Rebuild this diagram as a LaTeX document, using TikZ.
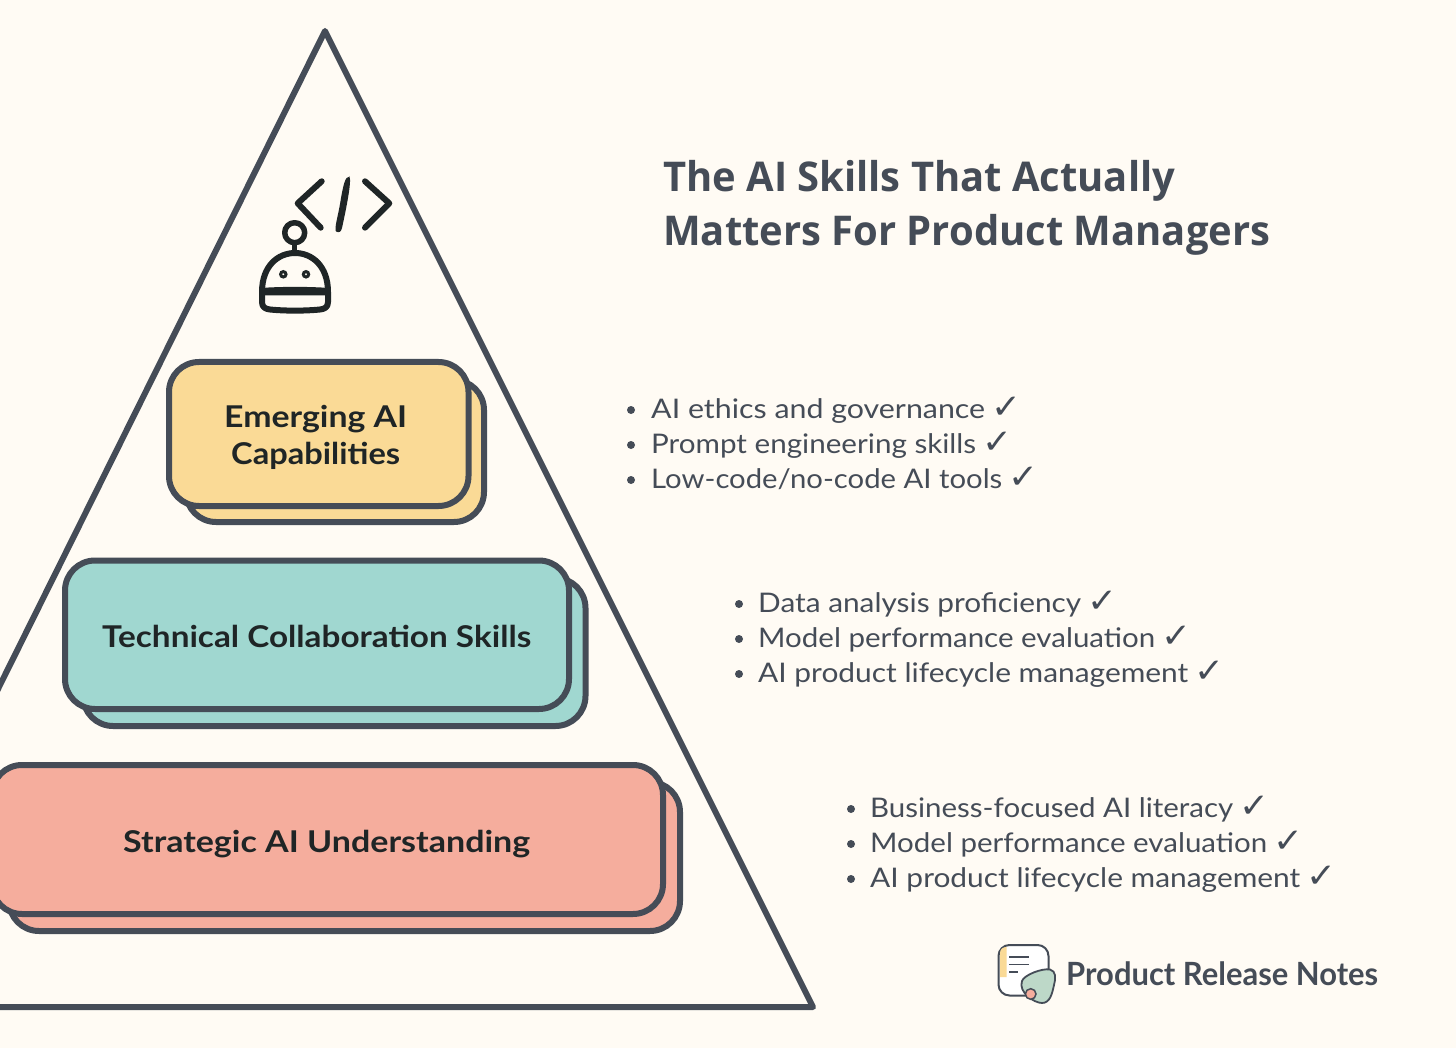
\documentclass[tikz,border=0pt]{standalone}
\usepackage{graphicx}
\usepackage{fontspec}
\setmainfont{Lato}
\newfontfamily\titlefont{Open Sans}
\newfontfamily\checkfont{DejaVu Sans}
\definecolor{bgc}{HTML}{FFFBF4}
\definecolor{inkc}{HTML}{454C57}
\definecolor{darkc}{HTML}{1F2526}
\definecolor{yelc}{HTML}{FADA96}
\definecolor{teac}{HTML}{A0D7D0}
\definecolor{redc}{HTML}{F5AD9D}
\definecolor{grnc}{HTML}{BDD8C8}
\newcommand{\fitw}[2]{\resizebox{#1pt}{\height}{#2}}
\newcommand{\chk}{\hspace{6.5pt}{\checkfont\fontsize{34}{34}\selectfont\fitw{30}{✓}}}
\tikzset{
  x=1pt,y=-1pt,
  boxc/.style={draw=inkc,line width=6pt,rounded corners=30pt,inner sep=0pt,outer sep=0pt,anchor=north west},
  labc/.style={anchor=base west,inner sep=0pt,text=darkc,font=\fontsize{30}{30}\selectfont\bfseries},
  itemc/.style={anchor=base west,inner sep=0pt,text=inkc,font=\fontsize{27}{27}\selectfont},
  bulc/.style={anchor=center,circle,fill=inkc,inner sep=0pt,minimum size=8pt},
  titc/.style={anchor=base west,inner sep=0pt,text=inkc,font=\titlefont\fontsize{41}{41}\selectfont\bfseries},
  iconc/.style={draw=darkc,line cap=round,line join=round},
}
\begin{document}
\begin{tikzpicture}
\useasboundingbox (0,0) rectangle (1456,1048);
\fill[bgc] (0,0) rectangle (1456,1048);
\clip (0,0) rectangle (1456,1048);
% pyramid
\draw[inkc,line width=6pt,line join=round] (325,31) -- (813,1007) -- (-160,1007) -- cycle;
% boxes
\node[boxc,fill=yelc,minimum width=298pt,minimum height=142pt] (ybk) at (186,380) {};
\node[boxc,fill=yelc,minimum width=299.5pt,minimum height=144pt] (yfr) at (169,362) {};
\node[boxc,fill=teac,minimum width=502.5pt,minimum height=148pt] (tbk) at (83,578) {};
\node[boxc,fill=teac,minimum width=504pt,minimum height=148.5pt] (tfr) at (65,560.5) {};
\node[boxc,fill=redc,minimum width=671pt,minimum height=149pt] (rbk) at (9,782) {};
\node[boxc,fill=redc,minimum width=671pt,minimum height=149pt] (rfr) at (-8,765) {};
\node[labc] (l1a) at (224,427.5) {\fitw{183}{Emerging AI}};
\node[labc] (l1b) at (231,464) {\fitw{169}{Capabilities}};
\node[labc] (l2) at (102,647) {\fitw{429}{Technical Collaboration Skills}};
\node[labc] (l3) at (123,852) {\fitw{407}{Strategic AI Understanding}};
% title
\node[titc] (t1) at (663,192) {\fitw{512}{The AI Skills That Actually}};
\node[titc] (t2) at (663,246) {\fitw{607}{Matters For Product Managers}};
% lists
\node[bulc] (b11) at (631,410) {};
\node[bulc] (b12) at (631,445) {};
\node[bulc] (b13) at (631,480) {};
\node[itemc] (i11) at (651,418) {\fitw{334}{AI ethics and governance}\chk};
\node[itemc] (i12) at (651,453) {\fitw{325}{Prompt engineering skills}\chk};
\node[itemc] (i13) at (651,488) {\fitw{351}{Low-code/no-code AI tools}\chk};
\node[bulc] (b21) at (739,604) {};
\node[bulc] (b22) at (739,639) {};
\node[bulc] (b23) at (739,674) {};
\node[itemc] (i21) at (758,612) {\fitw{323}{Data analysis proficiency}\chk};
\node[itemc] (i22) at (758,647) {\fitw{397}{Model performance evaluation}\chk};
\node[itemc] (i23) at (758,682) {\fitw{430}{AI product lifecycle management}\chk};
\node[bulc] (b31) at (851,809) {};
\node[bulc] (b32) at (851,844) {};
\node[bulc] (b33) at (851,879) {};
\node[itemc] (i31) at (870,817) {\fitw{363}{Business-focused AI literacy}\chk};
\node[itemc] (i32) at (870,852) {\fitw{397}{Model performance evaluation}\chk};
\node[itemc] (i33) at (870,887) {\fitw{430}{AI product lifecycle management}\chk};
% code icon
\draw[iconc,line width=6pt] (321.7,181.3) -- (297.7,203.3) -- (320.7,227.7);
\draw[iconc,line width=6pt] (365,181.3) -- (389.3,203.3) -- (365,227.7);
\fill[darkc] (349.5,176.5) .. controls (345,176) and (343,186) .. (340,204) .. controls (338,216) and (334,229) .. (336,231.5) .. controls (339,233) and (341,232) .. (342,228) .. controls (345,214) and (352,182) .. (349.5,176.5) -- cycle;
% robot icon
\draw[iconc,line width=5.5pt] (294.7,232.7) circle[radius=10];
\draw[iconc,line width=5.5pt] (294.7,243) -- (294.7,252);
\draw[iconc,line width=6pt,fill=bgc] (262,292) .. controls (262,266) and (278,253) .. (295,253) .. controls (312,253) and (328,266) .. (328,292) -- (328,302) .. controls (328,307) and (325,309) .. (320,309.5) .. controls (305,311) and (285,311) .. (270,309.5) .. controls (265,309) and (262,307) .. (262,302) -- cycle;
\fill[darkc] (261,288) .. controls (280,286.5) and (310,286.5) .. (329,288) -- (329,295.5) -- (261,295.5) -- cycle;
\draw[darkc,line width=3pt] (283.3,274.3) circle[radius=2.7];
\draw[darkc,line width=3pt] (306,274.3) circle[radius=2.7];
% logo
\draw[inkc,line width=2pt,fill=white,rounded corners=11pt] (998.5,945) rectangle (1048.5,995.5);
\fill[yelc] (1000,953) .. controls (1000,949) and (1003,947) .. (1006.5,947) -- (1006.5,977) -- (1000,977) -- cycle;
\draw[inkc,line width=1.6pt] (1009.3,956.7) -- (1029,956.7);
\draw[inkc,line width=1.6pt] (1009.3,964.3) -- (1029,964.3);
\draw[inkc,line width=1.6pt] (1009.3,971.7) -- (1017.5,971.7);
\draw[inkc,line width=1.8pt,fill=grnc,line join=round] (1022,981) .. controls (1024,975) and (1042,968) .. (1050,969.5) .. controls (1056,971) and (1056,978) .. (1054,985) .. controls (1052,994) and (1050,1003) .. (1042,1003) .. controls (1034,1003) and (1018,992) .. (1022,981) -- cycle;
\draw[inkc,line width=1.5pt,fill=redc] (1030.7,994) circle[radius=5.3];
\node[anchor=base west,inner sep=0pt,text=inkc,font=\fontsize{32}{32}\selectfont\bfseries] (brand) at (1066,985) {\fitw{312}{Product Release Notes}};
\end{tikzpicture}
\end{document}
